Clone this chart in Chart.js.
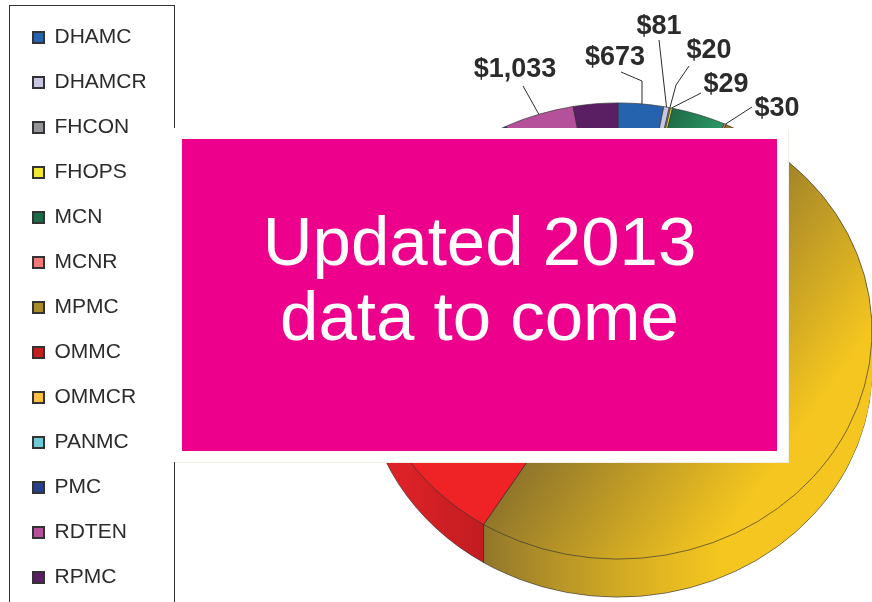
<!DOCTYPE html>
<html>
<head>
<meta charset="utf-8">
<style>
  html, body { margin: 0; background: #fff; overflow: hidden; }
  #wrap { position: relative; width: 872px; height: 602px; overflow: hidden; }
  #frame { position: absolute; left: 174px; top: 128px; width: 614px; height: 334px; background: #fff;
    box-shadow: 1px 1px 0 #f1eee6; }
  #banner { position: absolute; left: 182px; top: 139px; width: 595px; height: 312px; background: #ec008c; }
  #banner div { position: absolute; left: 0; top: 65px; width: 100%; text-align: center; color: #fff;
    font: 69px/75px "Liberation Sans", sans-serif; }
</style>
</head>
<body>
<div id="wrap">
  <!-- canvas runs 10px past the window so the legend keeps all 13 rows in one column -->
  <canvas id="chart" width="872" height="612"></canvas>
  <div id="frame"></div>
  <div id="banner"><div>Updated 2013<br>data to come</div></div>
</div>
<script src="https://cdn.jsdelivr.net/npm/chart.js@4/dist/chart.umd.min.js"></script>
<script>
// ========== DATA ==========
const categories = ['DHAMC', 'DHAMCR', 'FHCON', 'FHOPS', 'MCN', 'MCNR', 'MPMC', 'OMMC', 'OMMCR', 'PANMC', 'PMC', 'RDTEN', 'RPMC'];
// labelled ones are read off the picture, the rest are estimated from slice angles (some sit behind the banner)
const amounts = [673, 81, 20, 29, 800, 30, 12100, 7200, 350, 120, 230, 1033, 660];
const labelled = ['DHAMC', 'DHAMCR', 'FHCON', 'FHOPS', 'MCNR', 'RDTEN'];
const sliceColors = ['#2663ae', '#c9c6e3', '#939598', '#f2e935', '#2a9567', '#f27a76', '#a08429', '#ef2325', '#f5b843', '#6ec6c9', '#2b3a8c', '#b5519b', '#5a1f63'];
const swatchColors = ['#2663ae', '#c9c6e3', '#939598', '#f2e935', '#1c6b47', '#f27a76', '#a88a2a', '#c4201f', '#fdbf43', '#6ecad6', '#26408c', '#b5519b', '#5a1f63'];

// ========== LAYOUT ==========
const PIE = { x: 618, y: 331, r: 254, squash: 0.898, depth: 38 };
const INK = '#2b2b2b';
// text centre and optional elbow for each leader line
const leaders = {
  DHAMC:  { tx: 615, ty: 58,  pts: [[621, 72], [642, 81]] },
  DHAMCR: { tx: 659, ty: 27,  pts: [[659, 40]] },
  FHCON:  { tx: 709, ty: 51,  pts: [[689, 66], [676, 85]] },
  FHOPS:  { tx: 726, ty: 85,  pts: [[701, 93]] },
  MCNR:   { tx: 777, ty: 109, pts: [[752, 107]] },
  RDTEN:  { tx: 515, ty: 70,  pts: [[523, 86]] }
};

// gradients are given in page coordinates, then mapped back through the squash
function pieGradient(chart, x0, y0, x1, y1, stops) {
  const a = chart.chartArea;
  const mx = (a.left + a.right) / 2, my = (a.top + a.bottom) / 2;
  const lx = x => x - PIE.x + mx, ly = y => (y - PIE.y) / PIE.squash + my;
  const g = chart.ctx.createLinearGradient(lx(x0), ly(y0), lx(x1), ly(y1));
  stops.forEach(([p, c]) => g.addColorStop(p, c));
  return g;
}

function sliceFill(ctx) {
  const name = categories[ctx.dataIndex];
  if (!ctx.chart.chartArea) return sliceColors[ctx.dataIndex];
  if (name === 'MPMC') return pieGradient(ctx.chart, 498, 500, 676, 603, [[0, '#8f752b'], [1, '#f5c61f']]);
  if (name === 'MCN') return pieGradient(ctx.chart, 675, 110, 725, 125, [[0, '#1f6e49'], [1, '#2c9a68']]);
  return sliceColors[ctx.dataIndex];
}

function pieTransform(ctx, arc, dy) {
  ctx.translate(PIE.x, PIE.y + dy);
  ctx.scale(1, PIE.squash);
  ctx.translate(-arc.x, -arc.y);
}

// ========== PLUGINS ==========
// flattens the pie into an ellipse and stacks copies of the slices below it for the rim
const squashPie = {
  id: 'squashPie',
  beforeDatasetsDraw(chart) {
    const ctx = chart.ctx, arcs = chart.getDatasetMeta(0).data;
    const sideRed = pieGradient(chart, 390, 470, 484, 540, [[0, '#dc2227'], [1, '#bf1c20']]);
    for (let dy = PIE.depth; dy > 0; dy--) {
      ctx.save();
      pieTransform(ctx, arcs[0], dy);
      arcs.forEach((arc, i) => {
        const opts = arc.options;
        const fill = categories[i] === 'OMMC' ? sideRed : opts.backgroundColor;
        arc.options = Object.assign({}, opts, { backgroundColor: fill, borderWidth: dy === PIE.depth ? opts.borderWidth : 0 });
        arc.draw(ctx);
        arc.options = opts;
      });
      ctx.restore();
    }
    ctx.save();
    pieTransform(ctx, arcs[0], 0);
  },
  afterDatasetsDraw(chart) {
    const ctx = chart.ctx;
    ctx.restore();
    // vertical seam on the rim where the two big slices meet
    const seam = chart.getDatasetMeta(0).data[categories.indexOf('MPMC')].endAngle;
    const sx = PIE.x + PIE.r * Math.cos(seam), sy = PIE.y + PIE.r * PIE.squash * Math.sin(seam);
    ctx.strokeStyle = '#3a3a3a';
    ctx.lineWidth = 1;
    ctx.beginPath();
    ctx.moveTo(sx, sy);
    ctx.lineTo(sx, sy + PIE.depth);
    ctx.stroke();
  }
};

const callouts = {
  id: 'callouts',
  afterDraw(chart) {
    const ctx = chart.ctx, arcs = chart.getDatasetMeta(0).data;
    ctx.save();
    // legend box, the middle of its right side goes behind the banner frame
    ctx.strokeStyle = '#333';
    ctx.lineWidth = 1;
    ctx.strokeRect(9.5, 5.5, 165, 640);

    ctx.font = 'bold 27px "Liberation Sans", sans-serif';
    ctx.textAlign = 'center';
    ctx.textBaseline = 'middle';
    labelled.forEach(name => {
      const i = categories.indexOf(name), arc = arcs[i], l = leaders[name];
      const mid = (arc.startAngle + arc.endAngle) / 2;
      ctx.strokeStyle = INK;
      ctx.lineWidth = 1;
      ctx.beginPath();
      l.pts.forEach(([x, y], n) => n ? ctx.lineTo(x, y) : ctx.moveTo(x, y));
      if (name === 'DHAMC') ctx.lineTo(l.pts[1][0], PIE.y - Math.sqrt(1 - Math.pow((l.pts[1][0] - PIE.x) / PIE.r, 2)) * PIE.r * PIE.squash);
      else ctx.lineTo(PIE.x + PIE.r * Math.cos(mid), PIE.y + PIE.r * PIE.squash * Math.sin(mid));
      ctx.stroke();
      ctx.fillStyle = INK;
      ctx.fillText('$' + amounts[i].toLocaleString('en-US'), l.tx, l.ty);
    });
    ctx.restore();
  }
};

// ========== CHART ==========
const pieLabels = Chart.overrides.doughnut.plugins.legend.labels.generateLabels;

new Chart(document.getElementById('chart'), {
  type: 'pie',
  data: {
    labels: categories,
    datasets: [{
      data: amounts,
      backgroundColor: sliceFill,
      borderColor: '#333',
      borderWidth: 0.7,
      radius: PIE.r,
      clip: false
    }]
  },
  options: {
    responsive: false,
    animation: false,
    layout: { padding: { left: 9, top: 3 } },
    plugins: {
      tooltip: { enabled: false },
      legend: {
        position: 'left',
        align: 'start',
        onClick: null,
        labels: {
          boxWidth: 11,
          boxHeight: 11,
          padding: 24,
          color: INK,
          font: { family: '"Liberation Sans", sans-serif', size: 21 },
          generateLabels(chart) {
            return pieLabels(chart).map((item, i) => Object.assign(item, {
              fillStyle: swatchColors[i], strokeStyle: '#333', lineWidth: 2
            }));
          }
        }
      }
    }
  },
  plugins: [squashPie, callouts]
});
</script>
</body>
</html>
